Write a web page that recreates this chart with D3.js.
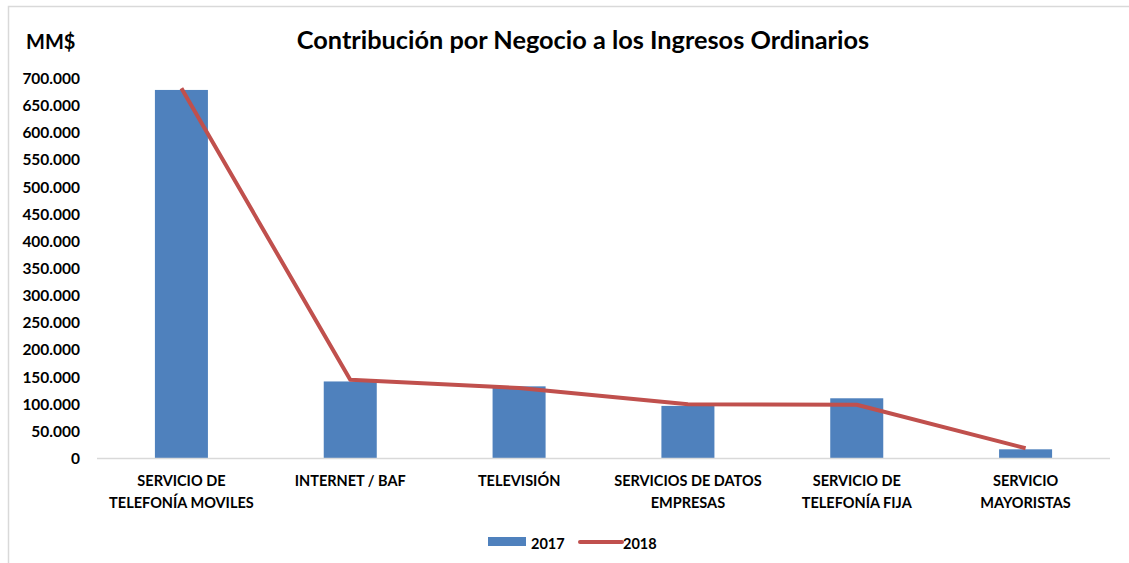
<!DOCTYPE html>
<html>
<head>
<meta charset="utf-8">
<script src="https://cdn.jsdelivr.net/npm/d3@7"></script>
<style>
  body { margin: 0; background: #fff; }
  svg text { font-family: Lato, "Open Sans", sans-serif; font-weight: bold; fill: #000; }
</style>
</head>
<body>
<div id="chart"></div>
<script>
const categories = [
    ["SERVICIO DE", "TELEFONÍA MOVILES"],
    ["INTERNET / BAF"],
    ["TELEVISIÓN"],
    ["SERVICIOS DE DATOS", "EMPRESAS"],
    ["SERVICIO DE", "TELEFONÍA FIJA"],
    ["SERVICIO", "MAYORISTAS"]
];
const values2017 = [678000, 141000, 132000, 96000, 110000, 16000];
const values2018 = [681000, 144000, 129000, 99000, 98000, 18000];
const yTicks = [0, 50000, 100000, 150000, 200000, 250000, 300000, 350000, 400000, 450000, 500000, 550000, 600000, 650000, 700000];

const width = 1129, height = 563;
const margin = { top: 78, right: 19, bottom: 105, left: 97 };
const iw = width - margin.left - margin.right;
const ih = height - margin.top - margin.bottom;

const svg = d3.select("#chart")
    .append("svg")
    .attr("width", width)
    .attr("height", height);

// frame
svg.append("path")
    .attr("d", `M8.5,${height} V6.5 H${width}`)
    .attr("fill", "none")
    .attr("stroke", "#d9d9d9")
    .attr("stroke-width", 1.5);

const g = svg.append("g")
    .attr("transform", `translate(${margin.left},${margin.top})`);

const keys = categories.map((d, i) => i);
const x = d3.scaleBand()
    .domain(keys)
    .range([0, iw])
    .paddingInner(0.686)
    .paddingOuter(0.343);

const xc = d3.scalePoint()
    .domain(keys)
    .range([0, iw])
    .padding(0.5);

const y = d3.scaleLinear()
    .domain([0, 700000])
    .range([ih, 0]);

const fmt = v => v === 0 ? "0" : d3.format(",")(v).replace(/,/g, ".");

// y axis
const yAxis = g.append("g")
    .call(d3.axisLeft(y).tickValues(yTicks).tickFormat(fmt).tickSize(0).tickPadding(17));
yAxis.select(".domain").remove();
yAxis.selectAll("text")
    .style("font-size", "15.5px")
    .attr("dy", "0.35em");

// bars
g.selectAll("rect.bar")
    .data(values2017)
    .join("rect")
    .attr("class", "bar")
    .attr("x", (d, i) => x(i))
    .attr("y", d => y(d))
    .attr("width", x.bandwidth())
    .attr("height", d => ih - y(d))
    .attr("fill", "#4f81bd");

// x axis line
g.append("line")
    .attr("x1", 0)
    .attr("x2", iw)
    .attr("y1", ih + 0.5)
    .attr("y2", ih + 0.5)
    .attr("stroke", "#d9d9d9")
    .attr("stroke-width", 1.5);

// line 2018
const line = d3.line()
    .x((d, i) => xc(i))
    .y(d => y(d));
g.append("path")
    .datum(values2018)
    .attr("d", line)
    .attr("fill", "none")
    .attr("stroke", "#c0504d")
    .attr("stroke-width", 4)
    .attr("stroke-linejoin", "round");

// category labels
const labels = g.selectAll("text.cat")
    .data(categories)
    .join("text")
    .attr("class", "cat")
    .attr("text-anchor", "middle")
    .attr("transform", (d, i) => `translate(${xc(i)},${ih + 28})`)
    .style("font-size", "14.5px");
labels.selectAll("tspan")
    .data(d => d)
    .join("tspan")
    .attr("x", 0)
    .attr("dy", (d, i) => i === 0 ? 0 : 22)
    .text(d => d);

// title
svg.append("text")
    .attr("x", 583)
    .attr("y", 49)
    .attr("text-anchor", "middle")
    .style("font-size", "25.3px")
    .text("Contribución por Negocio a los Ingresos Ordinarios");

svg.append("text")
    .attr("x", 26)
    .attr("y", 49)
    .style("font-size", "20px")
    .text("MM$");

// legend
const legend = svg.append("g").attr("transform", "translate(488,537)");
legend.append("rect")
    .attr("x", 0).attr("y", 0)
    .attr("width", 38).attr("height", 9)
    .attr("fill", "#4f81bd");
legend.append("text")
    .attr("x", 43).attr("y", 12)
    .style("font-size", "14.5px")
    .text("2017");
legend.append("line")
    .attr("x1", 92).attr("x2", 134)
    .attr("y1", 5).attr("y2", 5)
    .attr("stroke", "#c0504d")
    .attr("stroke-width", 4)
    .attr("stroke-linecap", "round");
legend.append("text")
    .attr("x", 135).attr("y", 12)
    .style("font-size", "14.5px")
    .text("2018");
</script>
</body>
</html>
